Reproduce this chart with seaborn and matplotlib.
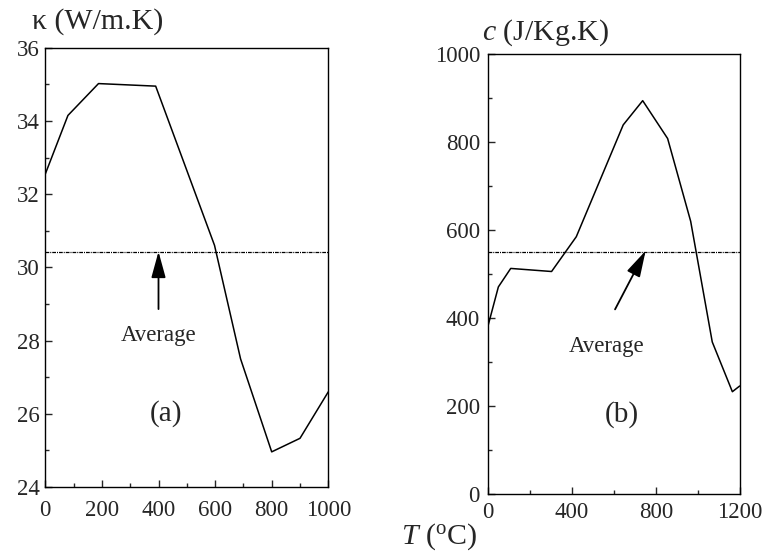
import matplotlib
matplotlib.use("Agg")
import matplotlib.pyplot as plt
import seaborn as sns
import pandas as pd
from matplotlib.ticker import MultipleLocator

# Data: panel (a) thermal conductivity
T_a = [0, 80, 188, 390, 598, 690, 800, 900, 1000]
k_a = [32.55, 34.15, 35.02, 34.95, 30.6, 27.5, 24.96, 25.33, 26.6]
k_avg = 30.43

# Data: panel (b) specific heat
T_b = [0, 48, 107, 302, 420, 644, 737, 856, 966, 1069, 1165, 1200]
c_b = [385, 471, 513, 506, 585, 839, 894, 808, 620, 346, 233, 246]
c_avg = 551

sns.set_style("ticks")
plt.rcParams['font.family'] = ['Liberation Serif', 'DejaVu Serif']
plt.rcParams['mathtext.fontset'] = 'custom'
plt.rcParams['mathtext.rm'] = 'Liberation Serif'
plt.rcParams['mathtext.it'] = 'Liberation Serif:italic'

fig = plt.figure(figsize=(7.67, 5.59), dpi=100)
W, H = 767, 559
def box(l, r, t, b):
    return [l / W, 1 - b / H, (r - l) / W, (b - t) / H]

ax1 = fig.add_axes(box(45.3, 328.3, 47.7, 487))
ax2 = fig.add_axes(box(488.3, 739.7, 54, 494.3))

df_a = pd.DataFrame({"T": T_a, "k": k_a})
df_b = pd.DataFrame({"T": T_b, "c": c_b})

sns.lineplot(data=df_a, x="T", y="k", ax=ax1, color="black", lw=1.1, sort=False)
sns.lineplot(data=df_b, x="T", y="c", ax=ax2, color="black", lw=1.1, sort=False)

ax1.set_xlim(0, 1000); ax1.set_ylim(24, 36)
ax2.set_xlim(0, 1200); ax2.set_ylim(0, 1000)

ax1.xaxis.set_major_locator(MultipleLocator(200)); ax1.xaxis.set_minor_locator(MultipleLocator(100))
ax1.yaxis.set_major_locator(MultipleLocator(2)); ax1.yaxis.set_minor_locator(MultipleLocator(1))
ax2.xaxis.set_major_locator(MultipleLocator(400)); ax2.xaxis.set_minor_locator(MultipleLocator(200))
ax2.yaxis.set_major_locator(MultipleLocator(200)); ax2.yaxis.set_minor_locator(MultipleLocator(100))

ls = (0, (3, 0.8, 0.8, 0.8))
for ax, avg in ((ax1, k_avg), (ax2, c_avg)):
    ax.axhline(avg, color="black", lw=0.9, ls=ls)
    ax.set_xlabel(""); ax.set_ylabel("")
    for s in ax.spines.values():
        s.set_visible(True); s.set_linewidth(1.0); s.set_color("black")
    ax.tick_params(which="major", direction="in", length=5, width=1, labelsize=16.5, top=False, right=False)
    ax.tick_params(which="minor", direction="in", length=3, width=1, top=False, right=False)

ax1.tick_params(axis="x", which="major", pad=9)
ax1.tick_params(axis="y", which="major", pad=4)
ax2.tick_params(axis="x", which="major", pad=5.5)
ax2.tick_params(axis="y", which="major", pad=6)

arrow = dict(arrowstyle="-|>,head_length=0.8,head_width=0.22", color="black", lw=1.3,
             mutation_scale=20, shrinkA=0, shrinkB=0)
ax1.annotate("", xy=(400, k_avg), xytext=(400, 28.86), arrowprops=arrow)
ax2.annotate("", xy=(751, c_avg + 2), xytext=(605, 420), arrowprops=arrow)

ax1.text(400, 28.13, "Average", ha="center", va="center", fontsize=16.5)
ax2.text(565, 335, "Average", ha="center", va="center", fontsize=16.5)
ax1.text(425, 26.0, "(a)", ha="center", va="center", fontsize=21)
ax2.text(637, 182, "(b)", ha="center", va="center", fontsize=21)

fig.text(32 / W, 1 - 22 / H, "\u03ba (W/m.K)", ha="left", va="center", fontsize=21.5)
fig.text(482 / W, 1 - 33 / H, r"$c$ (J/Kg.K)", ha="left", va="center", fontsize=21.5)
fig.text(401 / W, 1 - 537 / H, r"$T$ ($^{\rm o}$C)", ha="left", va="center", fontsize=21.5)

fig.savefig("out.png", dpi=100)
